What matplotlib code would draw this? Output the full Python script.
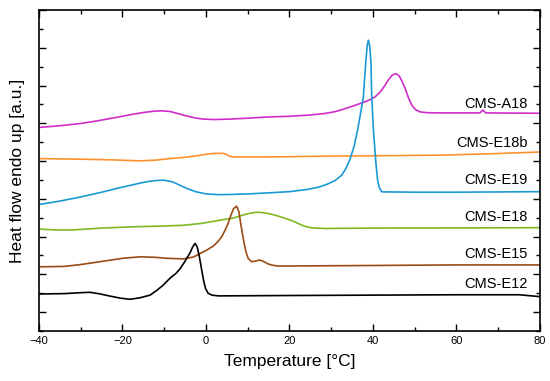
import matplotlib
matplotlib.use('Agg')
import matplotlib.pyplot as plt
from matplotlib.ticker import MultipleLocator

# DSC traces (temperature in degC, heat flow in a.u.)
t_e12 = [-40, -34, -30, -27.8, -25.5, -23, -20.5, -18.2, -15.8, -13.4, -11.8,
         -10.4, -8.6, -7.2, -6.2, -5, -3.8, -3.2, -2.6, -2.1, -1.6, -1.0,
         -0.6, -0.1, 0.5, 1.4, 3, 20, 40, 60, 75, 80]
hf_e12 = [1.96, 1.98, 2.03, 2.05, 1.97, 1.85, 1.74, 1.68, 1.76, 1.9, 2.15,
          2.4, 2.8, 3.05, 3.3, 3.7, 4.15, 4.45, 4.64, 4.45, 3.95, 3.2,
          2.7, 2.25, 2.0, 1.9, 1.86, 1.88, 1.9, 1.92, 1.92, 1.82]

t_e15 = [-40, -34, -30, -25.4, -20, -15.8, -12, -9.4, -5.4, -3, -1.4, 0.3,
         1.75, 2.8, 3.75, 4.6, 5.3, 6.0, 6.6, 7.35, 7.9, 8.3, 8.8, 9.3, 9.7,
         10.1, 10.9, 11.8, 12.9, 13.8, 14.9, 16, 17.3, 25, 40, 60, 80]
hf_e15 = [3.4, 3.42, 3.52, 3.67, 3.85, 3.93, 3.9, 3.85, 3.82, 3.92, 4.1, 4.3,
          4.5, 4.72, 4.99, 5.35, 5.7, 6.15, 6.48, 6.61, 6.3, 5.7, 5.05, 4.46, 4.1,
          3.85, 3.67, 3.7, 3.76, 3.68, 3.55, 3.48, 3.44, 3.45, 3.47, 3.5, 3.5]

t_e18 = [-40, -36, -32, -25, -17.4, -10, -5.4, -1, 2.6, 6.5, 9, 11, 12.5,
         14.5, 16.5, 18.5, 20.5, 22.5, 24, 25.5, 28.5, 40, 60, 80]
hf_e18 = [5.4, 5.35, 5.35, 5.45, 5.52, 5.56, 5.6, 5.7, 5.84, 5.98, 6.15, 6.26,
          6.29, 6.24, 6.14, 6.0, 5.85, 5.65, 5.52, 5.46, 5.43, 5.45, 5.46, 5.47]

t_e19 = [-40, -35, -30, -25, -21, -18, -15, -12.5, -10.2, -8, -6.3, -4.6,
         -2.5, 0, 3, 5.7, 10, 15.3, 20, 24.4, 27, 29, 31, 32.5, 33.5, 34.5,
         35.5, 36.3, 37, 37.7, 38.0, 38.3, 38.6, 38.9, 39.2, 39.5, 39.7, 40.1,
         40.7, 41.1, 41.5, 42.1, 50, 60, 80]
hf_e19 = [6.7, 6.88, 7.1, 7.35, 7.57, 7.72, 7.87, 7.96, 7.99, 7.9, 7.72, 7.55,
          7.38, 7.26, 7.22, 7.23, 7.26, 7.32, 7.38, 7.5, 7.62, 7.77, 7.98, 8.25,
          8.6, 9.1, 9.8, 10.63, 11.5, 12.4, 13.4, 14.3, 15.1, 15.4, 15.1, 14.3,
          12.4, 10.63, 8.9, 8.0, 7.6, 7.37, 7.35, 7.35, 7.38]

t_e18b = [-40, -30, -22, -16, -12, -8.6, -5, -2.2, 0, 1.5, 4.1, 4.8, 5.4, 6.0,
          6.6, 15.3, 29.7, 45, 56, 70, 80]
hf_e18b = [9.13, 9.1, 9.06, 9.01, 9.05, 9.13, 9.2, 9.28, 9.36, 9.4, 9.41, 9.36,
           9.28, 9.24, 9.22, 9.22, 9.26, 9.29, 9.31, 9.4, 9.48]

t_a18 = [-40, -35, -30, -26, -22, -18, -15, -12.5, -10.6, -8.5, -6.5, -4.5,
         -2.5, -0.6, 2, 5.7, 10, 15.3, 20, 25, 28.5, 31, 33, 35, 37, 39, 40.5,
         41.7, 42.7, 43.7, 44.6, 45.5, 46.3, 47, 47.7, 48.5, 49.3, 50.2, 51.3,
         53, 56, 65.6, 66.3, 67, 80]
hf_a18 = [10.78, 10.87, 10.99, 11.13, 11.29, 11.46, 11.57, 11.64, 11.66, 11.62,
          11.5, 11.38, 11.28, 11.22, 11.2, 11.22, 11.27, 11.34, 11.37, 11.44,
          11.52, 11.62, 11.75, 11.9, 12.05, 12.22, 12.4, 12.65, 12.95, 13.3,
          13.55, 13.63, 13.5, 13.2, 12.84, 12.35, 11.96, 11.72, 11.6, 11.56,
          11.55, 11.55, 11.7, 11.55, 11.53]

names = ['CMS-A18', 'CMS-E18b', 'CMS-E19', 'CMS-E18', 'CMS-E15', 'CMS-E12']
label_y = [12.0, 9.95, 8.0, 6.03, 4.1, 2.5]


def main():
    plt.rcParams['font.family'] = ['Liberation Sans', 'DejaVu Sans']

    fig = plt.figure(figsize=(5.5, 3.81), dpi=100)
    ax = fig.add_axes([0.0709, 0.1312, 0.9109, 0.8426])

    traces = [(t_a18, hf_a18, '#d02cc8'),
              (t_e18b, hf_e18b, '#ff9030'),
              (t_e19, hf_e19, '#1a9ad4'),
              (t_e18, hf_e18, '#80b822'),
              (t_e15, hf_e15, '#9a4c14'),
              (t_e12, hf_e12, 'black')]
    for t, hf, c in traces:
        ax.plot(t, hf, color=c, lw=1.2)

    for name, y in zip(names, label_y):
        ax.text(77, y, name, ha='right', va='center', fontsize=10.5)

    ax.set_xlim(-40, 80)
    ax.set_ylim(0, 17)
    ax.xaxis.set_major_locator(MultipleLocator(20))
    ax.xaxis.set_minor_locator(MultipleLocator(10))
    ax.set_yticks(range(1, 18, 2))
    ax.set_yticks(range(0, 18, 2), minor=True)
    ax.tick_params(which='both', direction='in', top=True, right=True,
                   labelsize=8, width=1)
    ax.tick_params(which='major', length=5)
    ax.tick_params(which='minor', length=3)
    ax.tick_params(axis='y', which='both', labelleft=False)
    for s in ax.spines.values():
        s.set_linewidth(1.2)

    ax.set_xlabel('Temperature [°C]', fontsize=12.5, labelpad=6)
    ax.set_ylabel('Heat flow endo up [a.u.]', fontsize=12.5, labelpad=10)

    fig.savefig('out.png', dpi=100)


if __name__ == '__main__':
    main()
